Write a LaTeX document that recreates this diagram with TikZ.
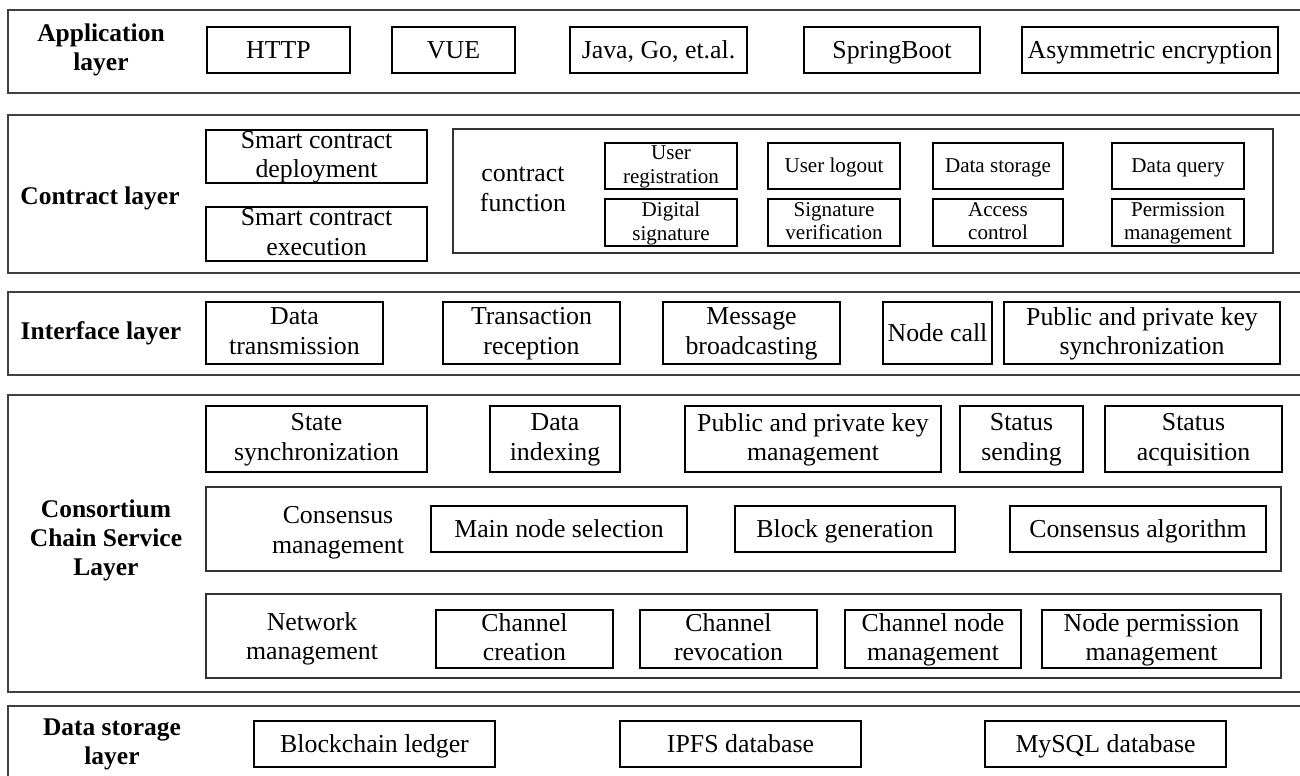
\documentclass[tikz,border=0pt]{standalone}
\usepackage{fontspec}
\setmainfont{Liberation Serif}
\tikzset{
  layer/.style={draw=black!75, line width=0.9pt},
  part/.style={draw=black!80, line width=0.7pt},
  item/.style={draw, line width=0.6pt},
  laylabel/.style={font=\fontsize{14.5}{16.5}\selectfont\bfseries, align=center},
  txt/.style={align=center, yshift=-1.4pt, execute at begin node=\strut, execute at end node=\strut},
  small/.style={txt, yshift=0.2pt, font=\fontsize{12}{13.4}\selectfont}
}
\begin{document}
\begin{tikzpicture}[x=0.02cm, y=-0.02cm, font=\fontsize{14.7}{16.8}\selectfont]
  \useasboundingbox (0,0) rectangle (1300,776);
  \clip (0,0) rectangle (1300,776);

  % application layer
  \draw [layer] (8,10) rectangle (1303,93);
  \node [laylabel] (app) at (101,50) {Application\\layer};
  \draw [item] (207,27) rectangle (350,73) node [midway, txt] (http) {HTTP};
  \draw [item] (392,27) rectangle (515,73) node [midway, txt] (vue) {VUE};
  \draw [item] (570,27) rectangle (747,73) node [midway, txt] (lang) {Java, Go, et.al.};
  \draw [item] (804,27) rectangle (980,73) node [midway, txt] (spring) {SpringBoot};
  \draw [item] (1022,27) rectangle (1278,73) node [midway, txt] (asym) {Asymmetric encryption};

  % contract layer
  \draw [layer] (8,115) rectangle (1303,273);
  \node [laylabel] (con) at (100,198) {Contract layer};
  \draw [item] (206,130) rectangle (427,183) node [midway, txt] (deploy) {Smart contract\\deployment};
  \draw [item] (206,207) rectangle (427,261) node [midway, txt] (exec) {Smart contract\\execution};
  \draw [part] (453,129) rectangle (1273,253);
  \node [txt] (func) at (523,191) {contract\\function};
  \draw [item] (605,143) rectangle (737,189) node [midway, small] (reg) {User\\registration};
  \draw [item] (768,143) rectangle (900,189) node [midway, small] (logout) {User logout};
  \draw [item] (933,143) rectangle (1063,189) node [midway, small] (store) {Data storage};
  \draw [item] (1112,143) rectangle (1244,189) node [midway, small] (query) {Data query};
  \draw [item] (605,199) rectangle (737,246) node [midway, small] (sign) {Digital\\signature};
  \draw [item] (768,199) rectangle (900,246) node [midway, small] (verify) {Signature\\verification};
  \draw [item] (933,199) rectangle (1063,246) node [midway, small] (access) {Access\\control};
  \draw [item] (1112,199) rectangle (1244,246) node [midway, small] (perm) {Permission\\management};

  % interface layer
  \draw [layer] (8,292) rectangle (1303,375);
  \node [laylabel] (intf) at (101,333) {Interface layer};
  \draw [item] (206,302) rectangle (383,364) node [midway, txt] (trans) {Data\\transmission};
  \draw [item] (443,302) rectangle (620,364) node [midway, txt] (recep) {Transaction\\reception};
  \draw [item] (663,302) rectangle (840,364) node [midway, txt] (bcast) {Message\\broadcasting};
  \draw [item] (883,302) rectangle (992,364) node [midway, txt] (ncall) {Node call};
  \draw [item] (1004,302) rectangle (1280,364) node [midway, txt] (keysync) {Public and private key\\synchronization};

  % consortium chain service layer
  \draw [layer] (8,395) rectangle (1303,692);
  \node [laylabel] (svc) at (106,540) {Consortium\\Chain Service\\Layer};
  \draw [item] (206,406) rectangle (427,472) node [midway, txt] (statesync) {State\\synchronization};
  \draw [item] (490,406) rectangle (620,472) node [midway, txt] (index) {Data\\indexing};
  \draw [item] (685,406) rectangle (941,472) node [midway, txt] (keymgmt) {Public and private key\\management};
  \draw [item] (960,406) rectangle (1083,472) node [midway, txt] (send) {Status\\sending};
  \draw [item] (1105,406) rectangle (1282,472) node [midway, txt] (acq) {Status\\acquisition};

  \draw [part] (206,487) rectangle (1281,571);
  \node [txt] (cons) at (338,532) {Consensus\\management};
  \draw [item] (431,506) rectangle (687,552) node [midway, txt] (mainsel) {Main node selection};
  \draw [item] (735,506) rectangle (955,552) node [midway, txt] (blockgen) {Block generation};
  \draw [item] (1010,506) rectangle (1266,552) node [midway, txt] (algo) {Consensus algorithm};

  \draw [part] (206,594) rectangle (1281,678);
  \node [txt] (net) at (312,638) {Network\\management};
  \draw [item] (436,610) rectangle (613,668) node [midway, txt] (create) {Channel\\creation};
  \draw [item] (640,610) rectangle (817,668) node [midway, txt] (revoke) {Channel\\revocation};
  \draw [item] (845,610) rectangle (1021,668) node [midway, txt] (chnode) {Channel node\\management};
  \draw [item] (1042,610) rectangle (1261,668) node [midway, txt] (nperm) {Node permission\\management};

  % data storage layer
  \draw [layer] (8,706) rectangle (1303,780);
  \node [laylabel] (data) at (112,744) {Data storage\\layer};
  \draw [item] (254,721) rectangle (495,767) node [midway, txt] (ledger) {Blockchain ledger};
  \draw [item] (620,721) rectangle (861,767) node [midway, txt] (ipfs) {IPFS database};
  \draw [item] (985,721) rectangle (1226,767) node [midway, txt] (mysql) {MySQL database};
\end{tikzpicture}
\end{document}
